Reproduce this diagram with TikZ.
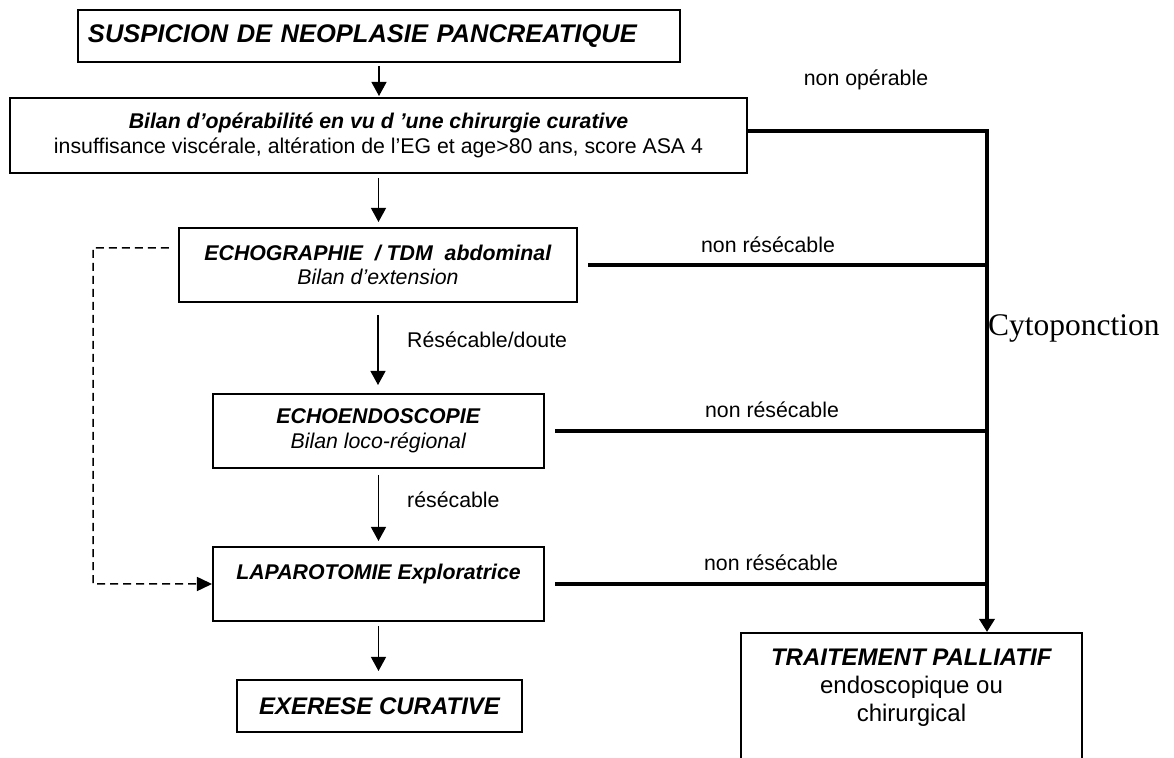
\documentclass[tikz,border=0pt]{standalone}
\usepackage{fontspec}
\setmainfont{Liberation Sans}
\newfontfamily\cytofont{Liberation Serif}
\usetikzlibrary{arrows.meta}

\newcommand{\bodysize}{\fontsize{21.3bp}{24.5bp}\selectfont}
\newcommand{\bigsize}{\fontsize{24bp}{28bp}\selectfont}
\newcommand{\titlesize}{\fontsize{25.5bp}{29bp}\selectfont}

\tikzset{
	box/.style={draw, line width=2bp, inner sep=0pt, align=center, font=\bodysize},
	lbl/.style={inner sep=0pt, font=\bodysize},
	downarrow/.style={line width=1.2bp, -{Triangle[width=15bp,length=14bp]}},
	thickline/.style={line width=4bp},
	dashline/.style={line width=1.5bp, dash pattern=on 8bp off 5bp, -{Triangle[width=14bp,length=15bp]}}
}

\begin{document}
\begin{tikzpicture}[x=1bp,y=1bp]

	\useasboundingbox (0,0) rectangle (1174,758);
	\clip (0,0) rectangle (1174,758);

	\node[box, minimum width=602bp, minimum height=52bp, text width=582bp, align=left, font=\titlesize\bfseries\itshape] (n1) at (379,722) {SUSPICION DE NEOPLASIE PANCREATIQUE};
	\node[box, minimum width=737bp, minimum height=75bp] (n2) at (378.5,622.5) {\textbf{\textit{Bilan d’opérabilité en vu d ’une chirurgie curative}}\\insuffisance viscérale, altération de l’EG et age>80 ans, score ASA 4};
	\node[box, minimum width=398bp, minimum height=74bp] (n3) at (378,493) {\textbf{\textit{ECHOGRAPHIE \ / TDM \ abdominal}}\\\textit{Bilan d’extension}};
	\node[box, minimum width=331bp, minimum height=74bp] (n4) at (378.5,327) {\textbf{\textit{ECHOENDOSCOPIE}}\\\textit{Bilan loco-régional}};
	\node[box, minimum width=331bp, minimum height=74bp] (n5) at (378.5,174) {\textbf{\textit{LAPAROTOMIE Exploratrice}}\\ \mbox{}};
	\node[box, minimum width=285bp, minimum height=52bp, font=\bigsize\bfseries\itshape] (n6) at (379.5,52) {EXERESE CURATIVE};
	\node[box, anchor=north, minimum width=341bp, inner ysep=16bp, font=\bigsize] (n7) at (911.5,126) {\textbf{\textit{TRAITEMENT PALLIATIF}}\\endoscopique ou\\chirurgical\\ \mbox{}\\ \mbox{}\\ \mbox{}};

	\node[lbl] (l0) at (866,678) {non opérable};
	\node[lbl] (l1) at (768,513) {non résécable};
	\node[lbl] (l2) at (772,348) {non résécable};
	\node[lbl] (l3) at (771,195) {non résécable};
	\node[lbl, anchor=west] (l4) at (407,418) {Résécable/doute};
	\node[lbl, anchor=west] (l5) at (407,258) {résécable};
	\node[anchor=west, inner sep=0pt, font=\cytofont\fontsize{31.5bp}{36bp}\selectfont] (cy) at (988,430) {Cytoponction};

	\coordinate (tr) at (987,627);
	\coordinate (dc) at (93,510);

	\draw[downarrow, shorten <=3bp, shorten >=1bp] (n1.south) -- (n1.south |- n2.north);
	\draw[downarrow, shorten <=4bp, shorten >=5bp] (n2.south) -- (n2.south |- n3.north);
	\draw[downarrow, shorten <=12bp, shorten >=8bp] (n3.south) -- (n3.south |- n4.north);
	\draw[downarrow, shorten <=6bp, shorten >=5bp] (n4.south) -- (n4.south |- n5.north);
	\draw[downarrow, shorten <=4bp, shorten >=8bp] (n5.south) -- (n5.south |- n6.north);

	\draw[thickline, -{Triangle[width=15bp,length=13bp]}] (n2.east |- tr) -- (tr) -- (tr |- n7.north);
	\draw[thickline, shorten <=10bp] (n3.east) -- (n3.east -| tr);
	\draw[thickline, shorten <=10bp] (n4.east) -- (n4.east -| tr);
	\draw[thickline, shorten <=10bp] (n5.east) -- (n5.east -| tr);

	\draw[dashline] ([xshift=-9bp,yshift=17bp]n3.west) -- (dc) -- (dc |- n5.west) -- (n5.west);

\end{tikzpicture}
\end{document}
